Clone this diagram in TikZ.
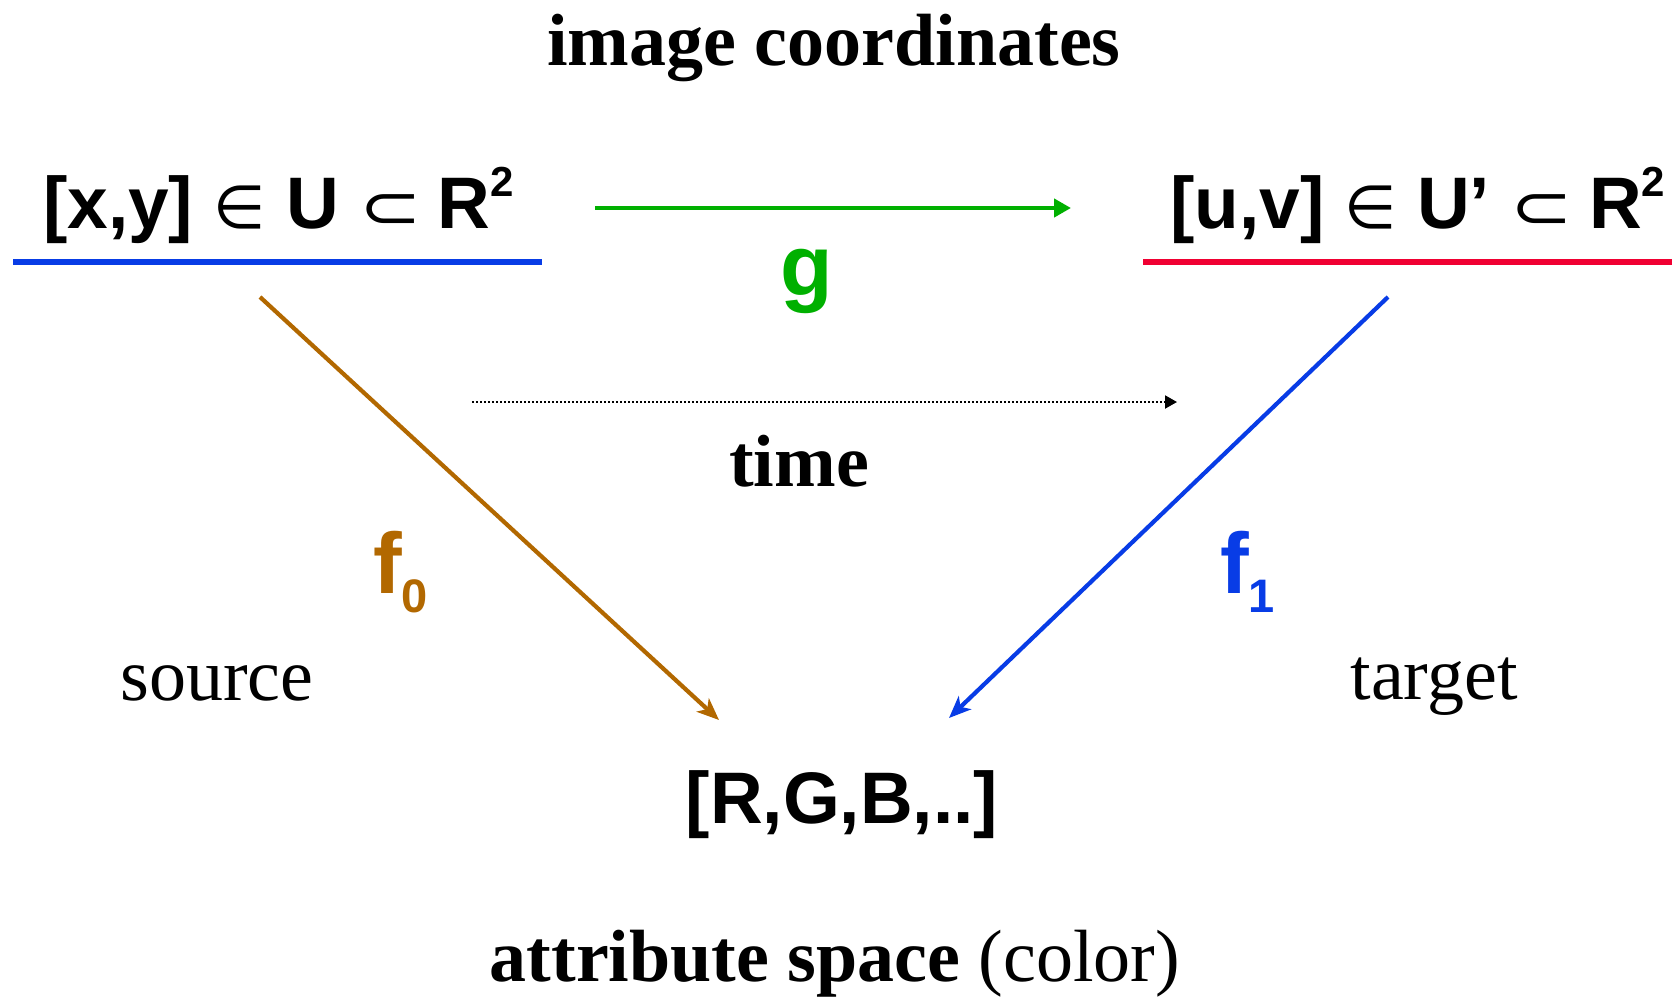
\documentclass[tikz,border=0pt]{standalone}
\usepackage{fontspec}
\usepackage{graphicx}
\setmainfont{Liberation Serif}
\newfontfamily\arialf{Liberation Sans}
\newfontfamily\symf{DejaVu Sans}
\usetikzlibrary{arrows.meta}
\definecolor{myblue}{RGB}{8,60,230}
\definecolor{myred}{RGB}{240,0,50}
\definecolor{mygreen}{RGB}{0,176,0}
\definecolor{mybrown}{RGB}{178,104,0}
\begin{document}
\begin{tikzpicture}[x=1pt,y=-1pt,
  serifb/.style={font=\fontsize{74}{80}\selectfont\bfseries, inner sep=0pt},
  serifr/.style={font=\fontsize{74}{80}\selectfont, inner sep=0pt},
  sansb/.style={font=\arialf\fontsize{73}{80}\selectfont\bfseries, inner sep=0pt},
  sansbig/.style={font=\arialf\fontsize{86}{90}\selectfont\bfseries, inner sep=0pt},
  underline/.style={line width=5.5pt},
  maparrow/.style={line width=4.2pt, -{Stealth[length=22pt,width=18pt,inset=6pt]}},
]
\useasboundingbox (0,0) rectangle (1672,998);
\fill[white] (0,0) rectangle (1672,998);

\newcommand{\symin}{{\symf\mdseries\fontsize{60}{70}\selectfont ∈}}
\newcommand{\symsub}{{\symf\mdseries\fontsize{62}{70}\selectfont\scalebox{1.2}[1]{⊂}}}
\newcommand{\supertwo}{\raisebox{32pt}{\fontsize{42}{42}\selectfont 2}}

% texts
\node[serifb, anchor=base] (title) at (834,66) {image coordinates};
\node[sansb, anchor=base west] (src) at (43,228) {[x,y] \symin{} U \symsub{}\hspace{-4pt} R\supertwo};
\node[sansb, anchor=base west] (tgt) at (1170,228) {[u,v] \symin{} U’ \symsub{}\hspace{-4pt} R\supertwo};
\node[sansbig, text=mygreen, anchor=base] (g) at (807,295) {g};
\node[serifb, anchor=base] (time) at (799,486) {time};
\node[sansbig, text=mybrown, anchor=base west] (f0) at (373,593) {f\raisebox{-19pt}{\fontsize{47}{47}\selectfont 0}};
\node[sansbig, text=myblue, anchor=base west] (f1) at (1220,593) {f\raisebox{-19pt}{\fontsize{47}{47}\selectfont 1}};
\node[serifr, anchor=base] (source) at (217,700) {source};
\node[serifr, anchor=base] (target) at (1434,699) {target};
\node[sansb, anchor=base] (rgb) at (842,823) {[R,G,B,..]};
\node[serifr, anchor=base] (attr) at (835,981) {\textbf{attribute space} (color)};

% coordinates
\coordinate (ul1a) at (13,262);
\coordinate (ul1b) at (542,262);
\coordinate (ul2a) at (1143,262);
\coordinate (ul2b) at (1672,262);
\coordinate (gs) at (595,208);
\coordinate (ge) at (1071,208);
\coordinate (ts) at (472,402);
\coordinate (te) at (1177,402);
\coordinate (f0s) at (260,297);
\coordinate (f0e) at (719,720);
\coordinate (f1s) at (1388,297);
\coordinate (f1e) at (949,718);

% lines
\draw[underline, myblue] (ul1a) -- (ul1b);
\draw[underline, myred] (ul2a) -- (ul2b);
\draw[mygreen, line width=4.5pt, -{Triangle[length=17pt,width=18pt]}] (gs) -- (ge);
\draw[black, line width=2pt, dash pattern=on 2pt off 2pt, -{Triangle[length=12pt,width=13pt]}] (ts) -- (te);
\draw[maparrow, mybrown] (f0s) -- (f0e);
\draw[maparrow, myblue] (f1s) -- (f1e);
\end{tikzpicture}
\end{document}
